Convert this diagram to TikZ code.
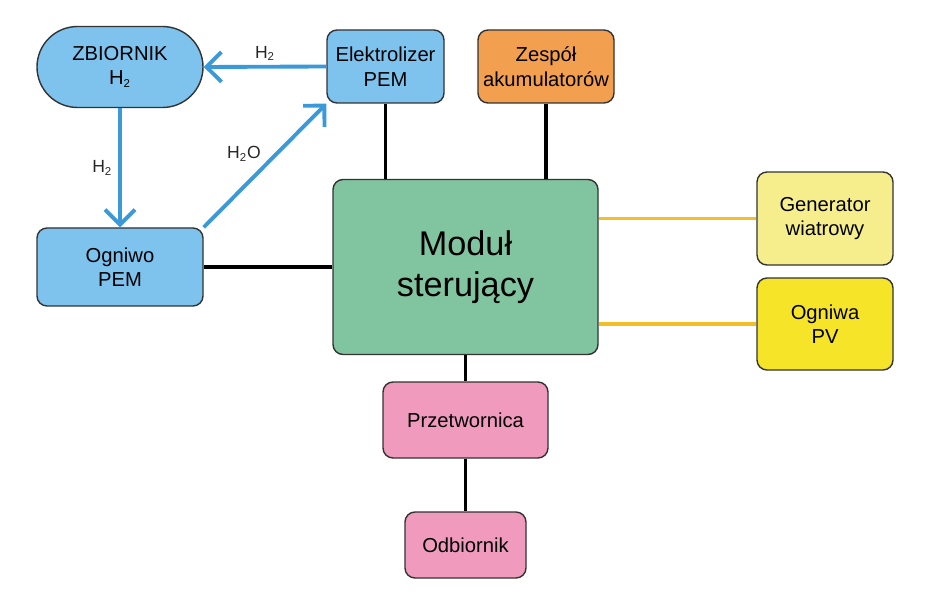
\documentclass[tikz,border=0pt]{standalone}
\usepackage{fontspec}
\setmainfont{Liberation Sans}
\usetikzlibrary{arrows.meta}
\definecolor{pemblue}{RGB}{125,195,238}
\definecolor{flowblue}{RGB}{58,154,217}
\definecolor{accorange}{RGB}{242,160,80}
\definecolor{ctrlgreen}{RGB}{128,196,160}
\definecolor{windyellow}{RGB}{246,238,140}
\definecolor{pvyellow}{RGB}{246,228,40}
\definecolor{loadpink}{RGB}{240,155,190}
\definecolor{linkyellow}{RGB}{242,190,42}
\newcommand{\sbs}[1]{\textsubscript{\fontsize{6.5}{7}\selectfont #1}}
\begin{document}
\begin{tikzpicture}[
        box/.style={draw=black!80,line width=0.8pt,rounded corners=0.2cm,align=center,
            font=\fontsize{11.5}{14}\selectfont,inner sep=0pt},
        flow/.style={line width=2.2pt,flowblue,-{Straight Barb[length=3mm,width=6mm,line width=2.2pt]}},
        wire/.style={line width=2.2pt,black},
        solarwire/.style={line width=2.2pt,linkyellow},
        gas/.style={font=\fontsize{10}{12}\selectfont,text=black!85}
    ]
    \useasboundingbox (0,0) rectangle (18.6,12.18);
    % hydrogen loop
    \node[box,fill=pemblue,rounded corners=0.81cm,minimum width=3.32cm,minimum height=1.62cm] (tank) at (2.40,10.84) {ZBIORNIK\\H\sbs{2}};
    \node[box,fill=pemblue,minimum width=2.34cm,minimum height=1.46cm] (elec) at (7.71,10.85) {Elektrolizer\\PEM};
    \node[box,fill=pemblue,minimum width=3.32cm,minimum height=1.56cm] (fuelcell) at (2.40,6.84) {Ogniwo\\PEM};
    % storage and control
    \node[box,fill=accorange,minimum width=2.72cm,minimum height=1.46cm] (batt) at (10.92,10.85) {Zespół\\akumulatorów};
    \node[box,fill=ctrlgreen,minimum width=5.30cm,minimum height=3.50cm,font=\fontsize{19.5}{23}\selectfont] (ctrl) at (9.31,6.84) {Moduł\\sterujący};
    % renewable sources
    \node[box,fill=windyellow,minimum width=2.72cm,minimum height=1.86cm] (wind) at (16.50,7.81) {Generator\\wiatrowy};
    \node[box,fill=pvyellow,minimum width=2.72cm,minimum height=1.84cm] (pv) at (16.50,5.70) {Ogniwa\\PV};
    % output side
    \node[box,fill=loadpink,minimum width=3.30cm,minimum height=1.52cm] (conv) at (9.31,3.78) {Przetwornica};
    \node[box,fill=loadpink,minimum width=2.42cm,minimum height=1.32cm] (load) at (9.31,1.28) {Odbiornik};

    \draw[flow] (elec.west) -- (tank.east) node[gas,midway,above=-1pt] {H\sbs{2}};
    \draw[flow] (tank.south) -- (fuelcell.north) node[gas,midway,left=0pt] {H\sbs{2}};
    \draw[flow] (fuelcell.north east) -- (elec.south west) node[gas,midway,above left=-2pt] {H\sbs{2}O};

    \draw[wire] (fuelcell.east) -- (ctrl.west);
    \draw[wire] (elec.south) -- (elec.south |- ctrl.north);
    \draw[wire] (batt.south) -- (batt.south |- ctrl.north);
    \draw[solarwire] (wind.west) -- (wind.west -| ctrl.east);
    \draw[solarwire] (pv.west) -- (pv.west -| ctrl.east);
    \draw[wire] (ctrl.south) -- (conv.north);
    \draw[wire] (conv.south) -- (load.north);
\end{tikzpicture}
\end{document}
